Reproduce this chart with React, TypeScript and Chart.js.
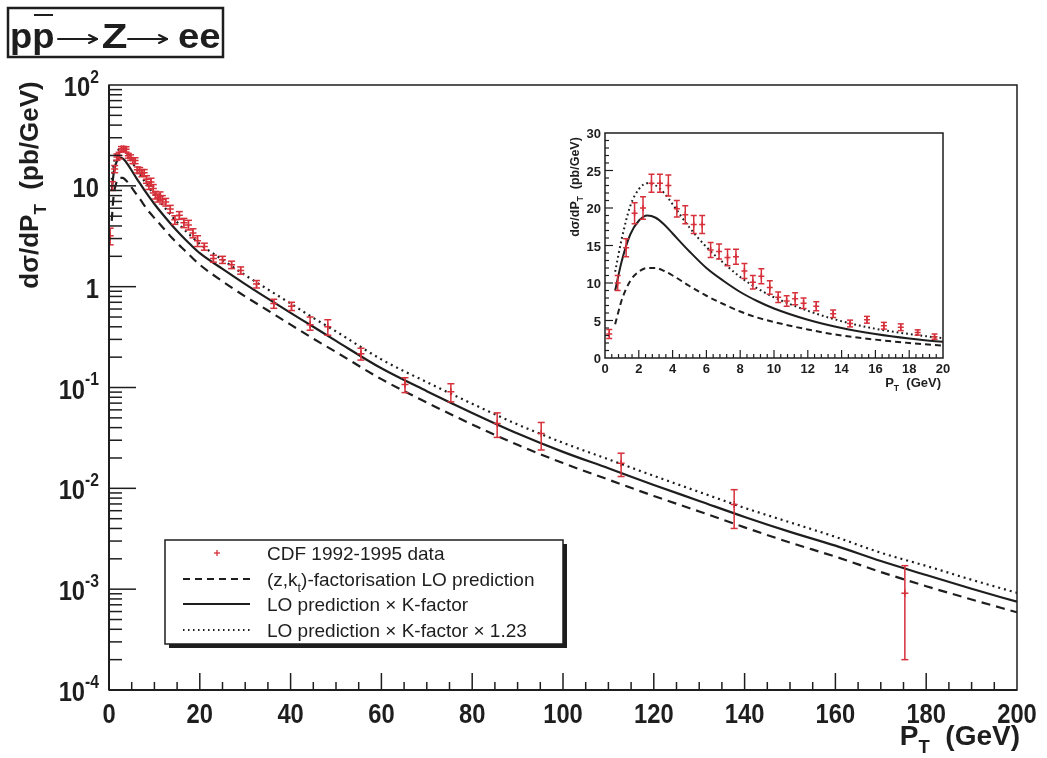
import React, { useEffect, useRef } from 'react';
import { Chart, registerables } from 'chart.js';
Chart.register(...registerables);

const W = 1047;
const H = 758;

// ---- CDF 1992-1995 data (pT bin centre, dσ/dpT, errors) ----
const cdfPt = [0.25, 0.75, 1.25, 1.75, 2.25, 2.75, 3.25, 3.75, 4.25, 4.75, 5.25, 5.75, 6.25, 6.75, 7.25, 7.75, 8.25, 8.75, 9.25, 9.75, 10.25, 10.75, 11.25, 11.75, 12.5, 13.5, 14.5, 15.5, 16.5, 17.5, 18.5, 19.5, 21, 23, 25, 27, 29, 32.5, 36.3, 40.2, 44.3, 48.2, 55.5, 65.2, 75.3, 85.5, 95.2, 112.8, 137.7, 175.3];
const cdfVal = [3.2, 10.0, 14.7, 19.3, 20.0, 23.3, 23.3, 23.0, 19.9, 19.1, 17.8, 17.8, 14.4, 14.2, 13.4, 13.5, 11.6, 10.1, 10.9, 9.4, 8.1, 7.6, 7.9, 7.3, 6.9, 5.9, 4.6, 5.1, 4.3, 4.1, 3.4, 2.85, 2.5, 1.9, 1.85, 1.65, 1.45, 1.06, 0.68, 0.64, 0.42, 0.40, 0.216, 0.107, 0.091, 0.044, 0.035, 0.0177, 0.0069, 0.00091];
const cdfErrUp = [0.6, 1.0, 1.2, 1.4, 1.5, 1.2, 1.2, 1.4, 1.1, 1.2, 1.2, 1.2, 1.0, 1.0, 1.1, 1.0, 1.0, 0.9, 1.0, 0.9, 0.7, 0.7, 0.8, 0.7, 0.6, 0.5, 0.45, 0.45, 0.45, 0.45, 0.35, 0.35, 0.2, 0.15, 0.15, 0.14, 0.12, 0.09, 0.07, 0.06, 0.08, 0.07, 0.029, 0.018, 0.018, 0.012, 0.010, 0.0046, 0.0028, 0.0008];
const cdfErrDown = [0.6, 1.0, 1.2, 1.4, 1.5, 1.2, 1.2, 1.4, 1.1, 1.2, 1.2, 1.2, 1.0, 1.0, 1.1, 1.0, 1.0, 0.9, 1.0, 0.9, 0.7, 0.7, 0.8, 0.7, 0.6, 0.5, 0.45, 0.45, 0.45, 0.45, 0.35, 0.35, 0.2, 0.15, 0.15, 0.14, 0.12, 0.09, 0.07, 0.06, 0.05, 0.07, 0.029, 0.018, 0.019, 0.012, 0.011, 0.0046, 0.0029, 0.00071];

// ---- theory curves ----
const curvePt = [0.6, 1, 1.5, 2, 2.5, 3, 3.5, 4, 5, 6, 7, 8, 9, 10, 12, 14, 16, 18, 20, 25, 30, 35, 40, 45, 50, 60, 70, 80, 90, 100, 110, 120, 130, 140, 150, 160, 170, 180, 190, 200];
const loPred = [4.5, 7.8, 10.3, 11.5, 12.0, 12.0, 11.6, 11.0, 9.6, 8.3, 7.2, 6.2, 5.4, 4.8, 3.8, 3.0, 2.45, 2.0, 1.65, 1.13, 0.80, 0.58, 0.42, 0.305, 0.225, 0.121, 0.071, 0.043, 0.027, 0.0178, 0.0122, 0.0084, 0.0059, 0.0041, 0.0029, 0.0021, 0.00148, 0.00107, 0.00079, 0.00059];
const kPred = [9.0, 13.0, 16.5, 18.3, 19.0, 18.7, 17.8, 16.6, 14.2, 12.0, 10.3, 8.8, 7.6, 6.6, 5.1, 4.0, 3.2, 2.6, 2.15, 1.5, 1.06, 0.76, 0.55, 0.40, 0.29, 0.155, 0.092, 0.056, 0.035, 0.023, 0.0158, 0.0108, 0.0075, 0.0052, 0.0037, 0.0027, 0.0019, 0.00138, 0.00101, 0.00075];
const k123Pred = [11.5, 16.0, 20.3, 22.5, 23.3, 23.0, 22.0, 20.5, 17.4, 14.8, 12.7, 10.8, 9.3, 8.1, 6.3, 4.9, 3.9, 3.2, 2.65, 1.85, 1.30, 0.94, 0.68, 0.49, 0.36, 0.19, 0.113, 0.069, 0.043, 0.0283, 0.0194, 0.0133, 0.0092, 0.0064, 0.0046, 0.0033, 0.0023, 0.0017, 0.00124, 0.00092];

// ---- ticks / labels ----
const mainXTicks = [0, 20, 40, 60, 80, 100, 120, 140, 160, 180, 200];
const mainYExps = [-4, -3, -2, -1, 0, 1, 2];
const insetXTicks = [0, 2, 4, 6, 8, 10, 12, 14, 16, 18, 20];
const insetYTicks = [0, 5, 10, 15, 20, 25, 30];
const legendLabels = ['CDF 1992-1995 data', '(z,k_t)-factorisation LO prediction', 'LO prediction × K-factor', 'LO prediction × K-factor × 1.23'];

const FAM = '"Liberation Sans", Arial, Helvetica, sans-serif';
const RED = '#d6303a';
const INK = '#1e1e1e';

type Part = { t: string; s?: 'sub' | 'sup' };

function setFont(ctx: CanvasRenderingContext2D, size: number, bold: boolean) {
  ctx.font = `${bold ? 'bold ' : ''}${size}px ${FAM}`;
}
function measureRich(ctx: CanvasRenderingContext2D, parts: Part[], size: number, bold: boolean, sx: number) {
  let w = 0;
  for (const p of parts) {
    setFont(ctx, p.s ? size * 0.66 : size, bold);
    w += ctx.measureText(p.t).width;
  }
  return w * sx;
}
function drawRich(ctx: CanvasRenderingContext2D, parts: Part[], x: number, y: number, size: number, bold: boolean, align: 'left' | 'center' | 'right' = 'left', sx = 1, color = INK) {
  const w = measureRich(ctx, parts, size, bold, sx);
  let cx = align === 'center' ? x - w / 2 : align === 'right' ? x - w : x;
  ctx.save();
  ctx.fillStyle = color;
  ctx.textAlign = 'left';
  ctx.textBaseline = 'alphabetic';
  for (const p of parts) {
    const sz = p.s ? size * 0.66 : size;
    setFont(ctx, sz, bold);
    const dy = p.s === 'sub' ? size * 0.3 : p.s === 'sup' ? -size * 0.5 : 0;
    ctx.save();
    ctx.translate(cx, y + dy);
    ctx.scale(sx, 1);
    ctx.fillText(p.t, 0, 0);
    ctx.restore();
    cx += ctx.measureText(p.t).width * sx;
  }
  ctx.restore();
  return w;
}
function fitText(ctx: CanvasRenderingContext2D, t: string, x: number, y: number, size: number, bold: boolean, width: number) {
  setFont(ctx, size, bold);
  const m = ctx.measureText(t);
  const inkW = m.actualBoundingBoxRight + m.actualBoundingBoxLeft;
  ctx.save();
  ctx.fillStyle = INK;
  ctx.textAlign = 'left';
  ctx.textBaseline = 'alphabetic';
  ctx.translate(x, y);
  ctx.scale(width / inkW, 1);
  ctx.fillText(t, m.actualBoundingBoxLeft, 0);
  ctx.restore();
}
function line(ctx: CanvasRenderingContext2D, x1: number, y1: number, x2: number, y2: number) {
  ctx.beginPath();
  ctx.moveTo(x1, y1);
  ctx.lineTo(x2, y2);
  ctx.stroke();
}
function arrow(ctx: CanvasRenderingContext2D, x1: number, x2: number, y: number) {
  ctx.save();
  ctx.lineWidth = 2;
  ctx.lineCap = 'round';
  line(ctx, x1, y, x2, y);
  line(ctx, x2 - 8, y - 4, x2, y);
  line(ctx, x2 - 8, y + 4, x2, y);
  ctx.restore();
}

function errorBars(chart: any, cap: number) {
  const ctx: CanvasRenderingContext2D = chart.ctx;
  const xs = chart.scales.x;
  const ys = chart.scales.y;
  const ca = chart.chartArea;
  ctx.save();
  ctx.strokeStyle = RED;
  ctx.lineWidth = 1.5;
  ctx.beginPath();
  ctx.rect(ca.left, ca.top, ca.right - ca.left, ca.bottom - ca.top);
  ctx.clip();
  cdfPt.forEach((pt, i) => {
    if (pt < xs.min || pt > xs.max) return;
    const px = xs.getPixelForValue(pt);
    const yTop = ys.getPixelForValue(cdfVal[i] + cdfErrUp[i]);
    const yBot = ys.getPixelForValue(Math.max(cdfVal[i] - cdfErrDown[i], 1e-6));
    line(ctx, px, yTop, px, yBot);
    line(ctx, px - cap, yTop, px + cap, yTop);
    line(ctx, px - cap, yBot, px + cap, yBot);
  });
  ctx.restore();
}

function makeDatasets(dash: number[], dot: number[], lw: number, pr: number) {
  const pts = (ys: number[]) => curvePt.map((x, i) => ({ x, y: ys[i] }));
  return [
    {
      label: legendLabels[0],
      data: cdfPt.map((x, i) => ({ x, y: cdfVal[i] })),
      showLine: false,
      pointStyle: 'cross',
      pointRadius: pr,
      pointBorderWidth: 1.5,
      borderColor: RED,
      backgroundColor: RED,
    },
    {
      label: legendLabels[1],
      data: pts(loPred),
      borderColor: INK,
      borderWidth: lw,
      borderDash: dash,
      pointRadius: 0,
      cubicInterpolationMode: 'monotone',
      fill: false,
    },
    {
      label: legendLabels[2],
      data: pts(kPred),
      borderColor: INK,
      borderWidth: lw,
      pointRadius: 0,
      cubicInterpolationMode: 'monotone',
      fill: false,
    },
    {
      label: legendLabels[3],
      data: pts(k123Pred),
      borderColor: INK,
      borderWidth: lw,
      borderDash: dot,
      pointRadius: 0,
      cubicInterpolationMode: 'monotone',
      fill: false,
    },
  ];
}

const mainPlugin = {
  id: 'mainDecor',
  beforeDraw(chart: any) {
    const ctx = chart.ctx;
    ctx.save();
    ctx.fillStyle = '#ffffff';
    ctx.fillRect(0, 0, chart.width, chart.height);
    ctx.restore();
  },
  afterDatasetsDraw(chart: any) {
    errorBars(chart, 3.5);
  },
  afterDraw(chart: any) {
    const ctx: CanvasRenderingContext2D = chart.ctx;
    const ca = chart.chartArea;
    const xs = chart.scales.x;
    const ys = chart.scales.y;
    ctx.save();
    ctx.strokeStyle = INK;
    // frame
    ctx.lineWidth = 1.5;
    ctx.strokeRect(ca.left, ca.top, ca.right - ca.left, ca.bottom - ca.top);
    ctx.lineWidth = 2;
    line(ctx, ca.left, ca.top, ca.left, ca.bottom);
    line(ctx, ca.left, ca.bottom, ca.right, ca.bottom);
    // x ticks
    ctx.lineWidth = 1.5;
    for (let v = 5; v < 200; v += 5) {
      const px = xs.getPixelForValue(v);
      const len = v % 20 === 0 ? 17 : 8;
      line(ctx, px, ca.bottom, px, ca.bottom - len);
    }
    // y ticks
    for (let d = -4; d <= 1; d++) {
      for (let k = 1; k <= 9; k++) {
        const v = k * Math.pow(10, d);
        const py = ys.getPixelForValue(v);
        const len = k === 1 ? 27 : 13;
        if (k === 1 && d === -4) continue;
        line(ctx, ca.left, py, ca.left + len, py);
      }
    }
    // x tick labels
    mainXTicks.forEach((v) => {
      drawRich(ctx, [{ t: String(v) }], xs.getPixelForValue(v), 723, 27, true, 'center', 0.88);
    });
    // y tick labels
    mainYExps.forEach((e) => {
      const py = ys.getPixelForValue(Math.pow(10, e));
      const parts: Part[] = e === 0 ? [{ t: '1' }] : e === 1 ? [{ t: '10' }] : [{ t: '10' }, { t: String(e), s: 'sup' }];
      drawRich(ctx, parts, 99, py + 11, 27, true, 'right', 0.88);
    });
    // axis titles
    drawRich(ctx, [{ t: 'P' }, { t: 'T', s: 'sub' }, { t: '  (GeV)' }], 1020, 745, 28, true, 'right', 1);
    ctx.save();
    ctx.translate(38, 185);
    ctx.rotate(-Math.PI / 2);
    drawRich(ctx, [{ t: 'dσ/dP' }, { t: 'T', s: 'sub' }, { t: '  (pb/GeV)' }], 0, 0, 26, true, 'center', 1);
    ctx.restore();

    // title box
    ctx.lineWidth = 2.5;
    ctx.strokeRect(8, 8, 215, 49);
    fitText(ctx, 'pp', 12, 48, 35, true, 41);
    arrow(ctx, 58, 97, 39);
    fitText(ctx, 'Z', 103, 48, 35, true, 24);
    arrow(ctx, 128, 167, 39);
    fitText(ctx, 'ee', 179, 48, 35, true, 41);
    ctx.lineWidth = 2;
    line(ctx, 34, 15, 53, 15);

    // legend
    const lx = 165, ly = 540, lw = 398, lh = 104;
    ctx.fillStyle = '#1e1e1e';
    ctx.fillRect(lx + 4, ly + lh, lw, 4);
    ctx.fillRect(lx + lw, ly + 4, 4, lh);
    ctx.fillStyle = '#ffffff';
    ctx.fillRect(lx, ly, lw, lh);
    ctx.lineWidth = 1.5;
    ctx.strokeRect(lx, ly, lw, lh);
    const rows = [553, 579, 604, 630];
    // marker
    ctx.strokeStyle = RED;
    ctx.lineWidth = 1.3;
    line(ctx, 214, rows[0], 220, rows[0]);
    line(ctx, 217, rows[0] - 3, 217, rows[0] + 3);
    ctx.strokeStyle = INK;
    ctx.lineWidth = 2;
    ctx.setLineDash([7, 5]);
    line(ctx, 183, rows[1], 250, rows[1]);
    ctx.setLineDash([]);
    line(ctx, 183, rows[2], 250, rows[2]);
    ctx.setLineDash([1.5, 3.5]);
    line(ctx, 183, rows[3], 250, rows[3]);
    ctx.setLineDash([]);
    const tx = 267;
    drawRich(ctx, [{ t: legendLabels[0] }], tx, rows[0] + 7, 19, false);
    drawRich(ctx, [{ t: '(z,k' }, { t: 't', s: 'sub' }, { t: ')-factorisation LO prediction' }], tx, rows[1] + 7, 19, false);
    drawRich(ctx, [{ t: legendLabels[2] }], tx, rows[2] + 7, 19, false);
    drawRich(ctx, [{ t: legendLabels[3] }], tx, rows[3] + 7, 19, false);
    ctx.restore();
  },
};

const insetPlugin = {
  id: 'insetDecor',
  afterDatasetsDraw(chart: any) {
    errorBars(chart, 3);
  },
  afterDraw(chart: any) {
    const ctx: CanvasRenderingContext2D = chart.ctx;
    const ca = chart.chartArea;
    const xs = chart.scales.x;
    const ys = chart.scales.y;
    ctx.save();
    ctx.strokeStyle = INK;
    ctx.lineWidth = 1.5;
    ctx.strokeRect(ca.left, ca.top, ca.right - ca.left, ca.bottom - ca.top);
    ctx.lineWidth = 1.2;
    for (let i = 1; i < 50; i++) {
      const v = i * 0.4;
      const px = xs.getPixelForValue(v);
      const len = i % 5 === 0 ? 8 : 4;
      line(ctx, px, ca.bottom, px, ca.bottom - len);
    }
    for (let v = 1; v < 30; v++) {
      const py = ys.getPixelForValue(v);
      const len = v % 5 === 0 ? 8 : 4;
      line(ctx, ca.left, py, ca.left + len, py);
    }
    insetXTicks.forEach((v) => {
      drawRich(ctx, [{ t: String(v) }], xs.getPixelForValue(v), 373, 13, true, 'center', 1);
    });
    insetYTicks.forEach((v) => {
      drawRich(ctx, [{ t: String(v) }], 601, ys.getPixelForValue(v) + 5, 13, true, 'right', 1);
    });
    drawRich(ctx, [{ t: 'P' }, { t: 'T', s: 'sub' }, { t: '  (GeV)' }], 941, 387, 13, true, 'right', 1);
    ctx.save();
    ctx.translate(579, 187);
    ctx.rotate(-Math.PI / 2);
    drawRich(ctx, [{ t: 'dσ/dP' }, { t: 'T', s: 'sub' }, { t: '  (pb/GeV)' }], 0, 0, 12.5, true, 'center', 1);
    ctx.restore();
    ctx.restore();
  },
};

export default function App() {
  const mainRef = useRef<HTMLCanvasElement>(null);
  const insetRef = useRef<HTMLCanvasElement>(null);

  useEffect(() => {
    const main = new Chart(mainRef.current as HTMLCanvasElement, {
      type: 'line',
      data: { datasets: makeDatasets([9, 6], [2, 4], 2.2, 3.5) as any },
      options: {
        animation: false,
        responsive: false,
        devicePixelRatio: 1,
        layout: { padding: { left: 109, right: W - 1017, top: 85, bottom: H - 690 } },
        plugins: { legend: { display: false }, tooltip: { enabled: false } },
        scales: {
          x: { type: 'linear', min: 0, max: 200, display: false },
          y: { type: 'logarithmic', min: 1e-4, max: 100, display: false },
        },
      },
      plugins: [mainPlugin],
    });
    const inset = new Chart(insetRef.current as HTMLCanvasElement, {
      type: 'line',
      data: { datasets: makeDatasets([6, 4], [1.8, 3], 2, 3) as any },
      options: {
        animation: false,
        responsive: false,
        devicePixelRatio: 1,
        layout: { padding: { left: 605, right: W - 943, top: 133, bottom: H - 358 } },
        plugins: { legend: { display: false }, tooltip: { enabled: false } },
        scales: {
          x: { type: 'linear', min: 0, max: 20, display: false },
          y: { type: 'linear', min: 0, max: 30, display: false },
        },
      },
      plugins: [insetPlugin],
    });
    return () => {
      main.destroy();
      inset.destroy();
    };
  }, []);

  return (
    <div style={{ position: 'absolute', left: 0, top: 0, width: W, height: H, background: '#fff' }}>
      <canvas ref={mainRef} width={W} height={H} style={{ position: 'absolute', left: 0, top: 0, width: W, height: H }} />
      <canvas ref={insetRef} width={W} height={H} style={{ position: 'absolute', left: 0, top: 0, width: W, height: H }} />
    </div>
  );
}
